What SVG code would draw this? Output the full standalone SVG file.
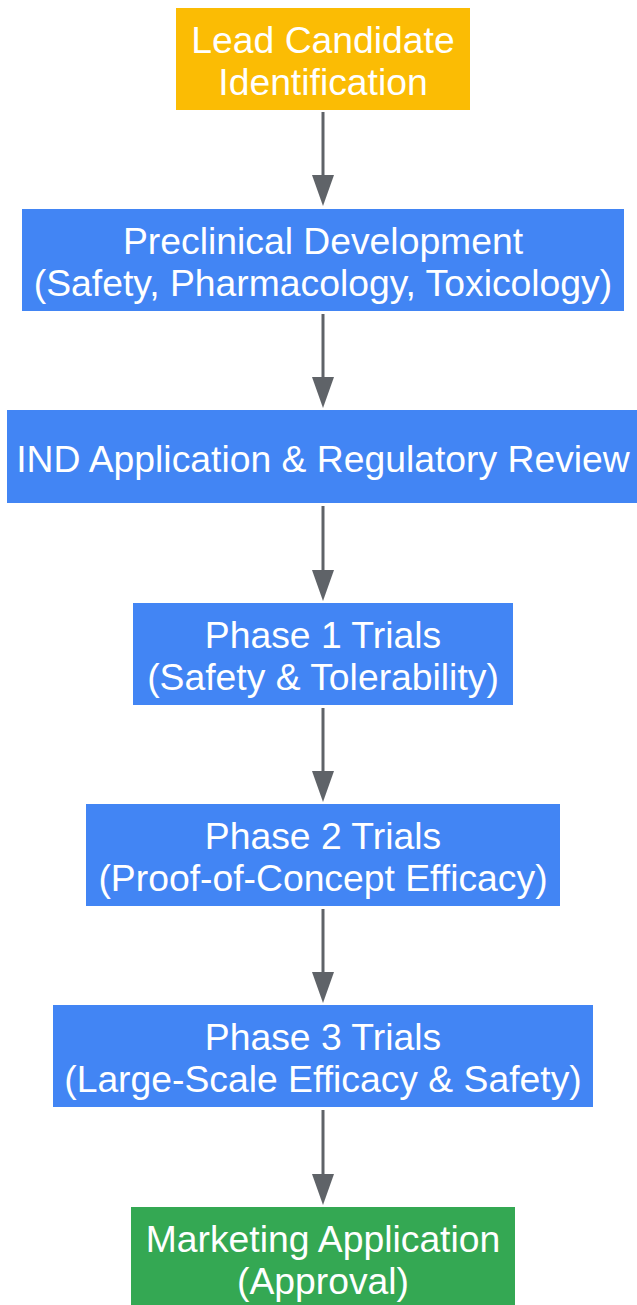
<svg xmlns="http://www.w3.org/2000/svg" width="637" height="1305" viewBox="0 0 637 1305">
<style>
text{font-family:"Liberation Sans",Arial,sans-serif;font-size:37.3px;fill:#ffffff;text-anchor:middle}
.e{stroke:#5f6368;stroke-width:3;fill:none}
.h{fill:#5f6368}
</style>
<rect width="637" height="1305" fill="#ffffff"/>
<g id="connectors">
<line class="e" x1="323" y1="112" x2="323" y2="178"/><polygon class="h" points="312,175 334,175 323,206"/>
<line class="e" x1="323" y1="314" x2="323" y2="380"/><polygon class="h" points="312,377 334,377 323,408"/>
<line class="e" x1="323" y1="506" x2="323" y2="573"/><polygon class="h" points="312,570 334,570 323,601"/>
<line class="e" x1="323" y1="708" x2="323" y2="774"/><polygon class="h" points="312,771 334,771 323,802"/>
<line class="e" x1="323" y1="909" x2="323" y2="975"/><polygon class="h" points="312,972 334,972 323,1003"/>
<line class="e" x1="323" y1="1110" x2="323" y2="1177"/><polygon class="h" points="312,1174 334,1174 323,1205"/>
</g>
<g id="lead"><rect x="176" y="8" width="294" height="102" fill="#fbbc04"/><text x="323" y="53">Lead Candidate</text><text x="323" y="95">Identification</text></g>
<g id="preclinical"><rect x="22" y="209" width="602" height="102" fill="#4285f4"/><text x="323" y="254">Preclinical Development</text><text x="323" y="296">(Safety, Pharmacology, Toxicology)</text></g>
<g id="ind"><rect x="7" y="410" width="630" height="93" fill="#4285f4"/><text x="323" y="472">IND Application &amp; Regulatory Review</text></g>
<g id="phase1"><rect x="133" y="603" width="380" height="102" fill="#4285f4"/><text x="323" y="648">Phase 1 Trials</text><text x="323" y="690">(Safety &amp; Tolerability)</text></g>
<g id="phase2"><rect x="86" y="804" width="474" height="102" fill="#4285f4"/><text x="323" y="849">Phase 2 Trials</text><text x="323" y="891">(Proof-of-Concept Efficacy)</text></g>
<g id="phase3"><rect x="53" y="1005" width="540" height="102" fill="#4285f4"/><text x="323" y="1050">Phase 3 Trials</text><text x="323" y="1092">(Large-Scale Efficacy &amp; Safety)</text></g>
<g id="marketing"><rect x="131" y="1207" width="384" height="98" fill="#34a853"/><text x="323" y="1252">Marketing Application</text><text x="323" y="1294">(Approval)</text></g>
</svg>
